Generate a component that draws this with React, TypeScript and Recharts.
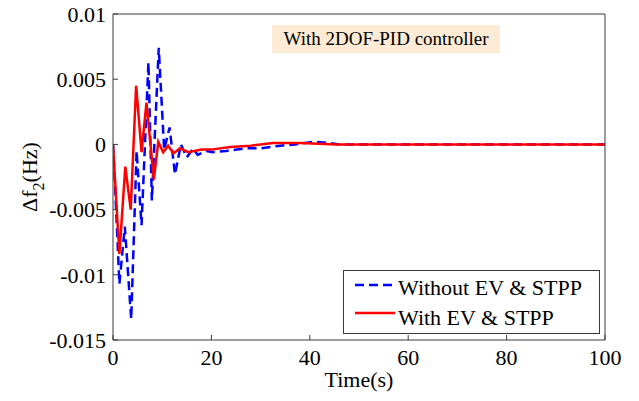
import React from 'react';
import { LineChart, Line, XAxis, YAxis, Legend } from 'recharts';

// ---- data ----
const blueTime = [0, 0.4, 1.3, 2.4, 3.7, 4.8, 5.8, 7.2, 7.9, 9.3, 10.4, 11.5, 12.6, 13.8, 15, 16.3, 17.2, 19, 20.3, 23, 27, 30, 34, 37, 40.7, 44, 46, 60, 80, 100];
const blueValue = [0, -0.003, -0.0107, -0.0063, -0.0134, -0.0005, -0.0062, 0.0063, -0.0043, 0.0074, -0.0004, 0.0013, -0.0023, 0.0, -0.001, -0.0003, -0.0008, -0.0005, -0.0006, -0.0005, -0.0003, -0.0003, -0.0001, 0.0, 0.0002, 0.0001, 0, 0, 0, 0];
const redTime = [0, 0.3, 1.3, 2.5, 3.6, 4.7, 5.8, 6.8, 8.3, 9.2, 10.2, 11.2, 12.3, 13.6, 15.3, 18, 20, 23.8, 28, 32.5, 38, 45.5, 60, 80, 100];
const redValue = [0, -0.002, -0.0084, -0.0017, -0.005, 0.0045, -0.0006, 0.0032, -0.0027, 0.0002, -0.0006, -0.0001, -0.0007, -0.0003, -0.0006, -0.0004, -0.0004, -0.0002, -0.0001, 0.0001, 0.0001, 0, 0, 0, 0];
const xTicks = [0, 20, 40, 60, 80, 100];
const yTicks = [-0.015, -0.01, -0.005, 0, 0.005, 0.01];
const seriesNames = ['Without EV & STPP', 'With EV & STPP'];
const titleText = 'With 2DOF-PID controller';
const xLabelText = 'Time(s)';

const blueData = blueTime.map((t, i) => ({ t, v: blueValue[i] }));
const redData = redTime.map((t, i) => ({ t, v: redValue[i] }));

const FONT = 'Liberation Serif';
const AXIS = '#3a3a3a';
const BLUE = '#0000ff';
const RED = '#ff0000';
const DASH = '9 5';

const BottomTick = (p: any) => (
  <g>
    <line x1={p.x} y1={p.y} x2={p.x} y2={p.y - 5} stroke={AXIS} />
    <text x={p.x} y={p.y + 25} textAnchor="middle" fontSize={22} fontFamily={FONT} fill="#000">
      {p.payload.value}
    </text>
  </g>
);
const TopTick = (p: any) => <line x1={p.x} y1={p.y} x2={p.x} y2={p.y + 5} stroke={AXIS} />;
const LeftTick = (p: any) => (
  <g>
    <line x1={p.x} y1={p.y} x2={p.x + 5} y2={p.y} stroke={AXIS} />
    <text x={p.x - 7} y={p.y} dy="0.35em" textAnchor="end" fontSize={22} fontFamily={FONT} fill="#000">
      {String(p.payload.value)}
    </text>
  </g>
);
const RightTick = (p: any) => <line x1={p.x} y1={p.y} x2={p.x - 5} y2={p.y} stroke={AXIS} />;

const YLabel = (props: any) => {
  const vb = props.viewBox || { x: 0, y: 14, width: 113, height: 326 };
  const cx = 37;
  const cy = vb.y + vb.height / 2;
  return (
    <text
      x={cx}
      y={cy}
      transform={`rotate(-90, ${cx}, ${cy})`}
      textAnchor="middle"
      fontSize={22}
      fontFamily={FONT}
      fill="#000"
    >
      <tspan>Δf</tspan>
      <tspan fontSize={16} dy={7}>2</tspan>
      <tspan dy={-7}>(Hz)</tspan>
    </text>
  );
};

const XLabel = (props: any) => {
  const vb = props.viewBox || { x: 113, y: 340, width: 492, height: 61 };
  return (
    <text x={vb.x + vb.width / 2} y={387} textAnchor="middle" fontSize={22} fontFamily={FONT} fill="#000">
      {xLabelText}
    </text>
  );
};

const LegendBox = (props: any) => {
  const payload = [...(props.payload || [])].sort(
    (a: any, b: any) => seriesNames.indexOf(a.value) - seriesNames.indexOf(b.value)
  );
  return (
    <svg width={257} height={64} style={{ display: 'block' }}>
      <rect x={0.5} y={0.5} width={256} height={63} fill="#fff" stroke={AXIS} />
      {payload.map((e: any, i: number) => (
        <g key={i}>
          <line
            x1={12}
            x2={52}
            y1={15 + i * 28}
            y2={15 + i * 28}
            stroke={e.color}
            strokeWidth={2.5}
            strokeDasharray={e.value === seriesNames[0] ? DASH : undefined}
          />
          <text x={55} y={25 + i * 30} fontSize={22} fontFamily={FONT} fill="#000">
            {e.value}
          </text>
        </g>
      ))}
    </svg>
  );
};

export default function App() {
  return (
    <div style={{ position: 'absolute', left: 0, top: 0, width: 639, height: 401, background: '#fff' }}>
      <LineChart width={639} height={401} margin={{ top: 0, right: 0, bottom: 0, left: 0 }}>
        <XAxis
          xAxisId="b"
          dataKey="t"
          type="number"
          domain={[0, 100]}
          ticks={xTicks}
          interval={0}
          orientation="bottom"
          height={61}
          tickSize={0}
          tickMargin={0}
          tick={<BottomTick />}
          tickLine={false}
          axisLine={{ stroke: AXIS }}
          allowDataOverflow
          label={<XLabel />}
        />
        <XAxis
          xAxisId="top"
          dataKey="t"
          type="number"
          domain={[0, 100]}
          ticks={xTicks}
          interval={0}
          orientation="top"
          height={14}
          tickSize={0}
          tickMargin={0}
          tick={<TopTick />}
          tickLine={false}
          axisLine={{ stroke: AXIS }}
        />
        <YAxis
          yAxisId="l"
          type="number"
          domain={[-0.015, 0.01]}
          ticks={yTicks}
          interval={0}
          orientation="left"
          width={113}
          tickSize={0}
          tickMargin={0}
          tick={<LeftTick />}
          tickLine={false}
          axisLine={{ stroke: AXIS }}
          allowDataOverflow
          label={<YLabel />}
        />
        <YAxis
          yAxisId="r"
          type="number"
          domain={[-0.015, 0.01]}
          ticks={yTicks}
          interval={0}
          orientation="right"
          width={34}
          tickSize={0}
          tickMargin={0}
          tick={<RightTick />}
          tickLine={false}
          axisLine={{ stroke: AXIS }}
        />
        <Line
          xAxisId="b"
          yAxisId="l"
          data={blueData}
          dataKey="v"
          name={seriesNames[0]}
          type="linear"
          stroke={BLUE}
          strokeWidth={2.5}
          strokeDasharray={DASH}
          dot={false}
          isAnimationActive={false}
        />
        <Line
          xAxisId="b"
          yAxisId="l"
          data={redData}
          dataKey="v"
          name={seriesNames[1]}
          type="linear"
          stroke={RED}
          strokeWidth={2.5}
          dot={false}
          isAnimationActive={false}
        />
        <Legend
          layout="horizontal"
          verticalAlign="middle"
          align="center"
          wrapperStyle={{ left: 343, top: 270, width: 257, height: 64 }}
          content={<LegendBox />}
        />
      </LineChart>
      <div
        style={{
          position: 'absolute',
          left: 272,
          top: 25,
          width: 228,
          height: 28,
          background: '#fdebd6',
          fontFamily: FONT,
          fontSize: 19,
          lineHeight: '28px',
          textAlign: 'center',
          color: '#000',
        }}
      >
        {titleText}
      </div>
    </div>
  );
}
